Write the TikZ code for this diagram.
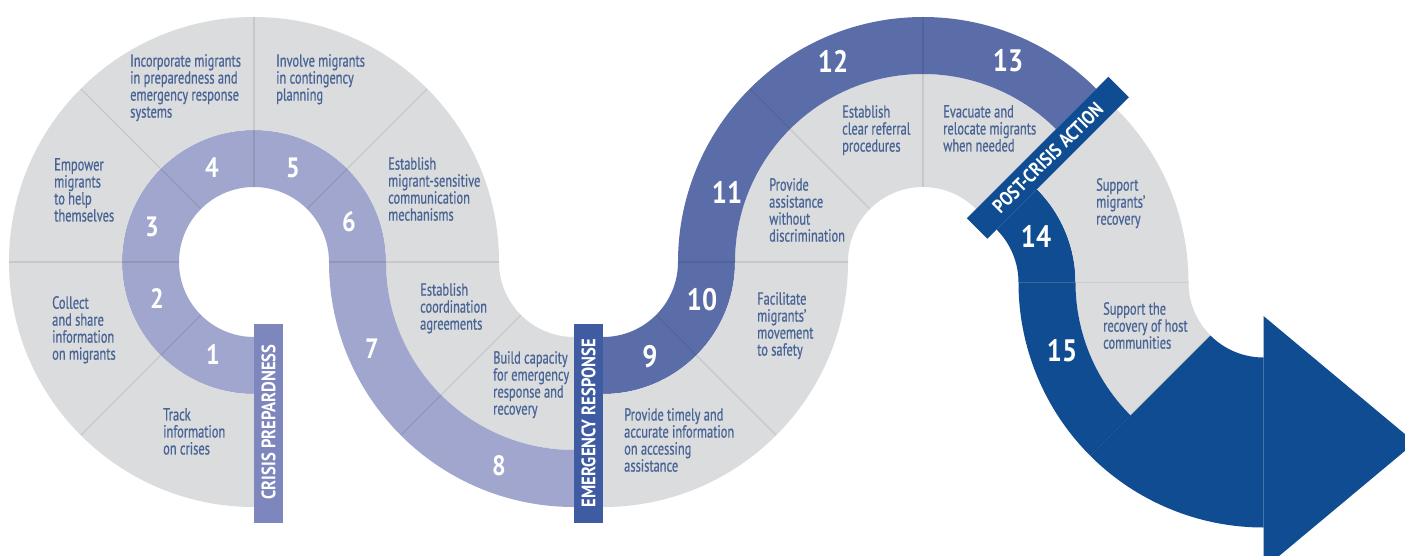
\documentclass[tikz,border=0pt]{standalone}
\usepackage{fontspec}
\usetikzlibrary{calc}
\newfontfamily\txtfont[FakeStretch=0.71,FakeBold=0.7]{PT Sans}
\newfontfamily\numfont[FakeStretch=0.86]{PT Sans}
\newfontfamily\barfont[FakeStretch=0.85]{PT Sans}
\definecolor{greyseg}{HTML}{DBDCDE}
\definecolor{bandA}{HTML}{A0A6CE}
\definecolor{bandB}{HTML}{5B6DA9}
\definecolor{bandC}{HTML}{0F4C91}
\definecolor{barA}{HTML}{7D86BD}
\definecolor{barB}{HTML}{3F5CA3}
\definecolor{barC}{HTML}{0F4C91}
\definecolor{txtcol}{HTML}{4A6595}
% fill colour, centre, inner radius, outer radius, start angle, end angle
\newcommand{\mysector}[6]{%
  \fill[#1] ($(#2)+(#5:#3)$) arc[start angle=#5, end angle=#6, radius=#3]
    -- ($(#2)+(#6:#4)$) arc[start angle=#6, end angle=#5, radius=#4] -- cycle;}
% centre, angle
\newcommand{\mydivider}[2]{%
  \draw[divider] ($(#1)+(#2:75)$) -- ($(#1)+(#2:245)$);}
\begin{document}
\begin{tikzpicture}[x=1pt,y=-1pt,
  divider/.style={black, opacity=0.09, line width=1.3pt},
  tx/.style={anchor=north west, inner sep=0pt, align=left, text=txtcol,
    font=\txtfont\fontsize{17.5}{17}\selectfont},
  num/.style={inner sep=0pt, text=white, font=\numfont\bfseries\fontsize{28}{28}\selectfont},
  bignum/.style={inner sep=0pt, text=white, font=\numfont\bfseries\fontsize{31}{31}\selectfont},
  bartxt/.style={inner sep=0pt, text=white, font=\barfont\bfseries\fontsize{19.5}{19.5}\selectfont}]
\useasboundingbox (0,0) rectangle (1405,556);
\clip (0,0) rectangle (1405,556);
\fill[white] (0,0) rectangle (1405,556);
\coordinate (A) at (254,262);
\coordinate (B) at (574,262);
\coordinate (C) at (603,262);
\coordinate (D) at (923,262);
\coordinate (E) at (943.5,282.5);
\coordinate (F) at (1263.5,282.5);
% piece A (steps 1-6)
\mysector{bandA}{A}{75}{132}{90}{360}
\mysector{greyseg}{A}{132}{245}{90}{360}
% piece B (steps 7-8)
\mysector{greyseg}{B}{75}{188}{90}{180}
\mysector{bandA}{B}{188}{245}{90}{180}
% piece C (steps 9-10)
\mysector{bandB}{C}{75}{132}{0}{90}
\mysector{greyseg}{C}{132}{245}{0}{90}
% piece D (steps 11-13)
\mysector{greyseg}{D}{75}{188}{180}{315}
\mysector{bandB}{D}{188}{245}{180}{315}
% piece E (step 14)
\mysector{bandC}{E}{75}{132}{315}{360}
\mysector{greyseg}{E}{132}{245}{315}{360}
% piece F (step 15 and arrow)
\mysector{greyseg}{F}{75}{188}{135}{180}
\mysector{bandC}{F}{188}{245}{135}{180}
\mysector{bandC}{F}{75}{245}{90}{135}
\fill[bandC] (1263.5,316) -- (1415,442.5) -- (1263.5,569) -- cycle;
% dividers
\mydivider{A}{135}
\mydivider{A}{180}
\mydivider{A}{225}
\mydivider{A}{270}
\mydivider{A}{315}
\mydivider{A}{360}
\mydivider{B}{135}
\mydivider{C}{45}
\mydivider{C}{0}
\mydivider{D}{225}
\mydivider{D}{270}
\mydivider{E}{0}
\mydivider{F}{135}
% bars
\fill[barA] (254,324) rectangle (283,523);
\fill[barB] (574,324) rectangle (603,523);
\fill[barC] ($(D)+(315:62)$) -- ($(D)+(315:262)$) -- ($(D)+(315:262)+(45:29)$)
  -- ($(D)+(315:62)+(45:29)$) -- cycle;
\node[bartxt, rotate=90] (barone) at (268.5,422) {CRISIS PREPARDNESS};
\node[bartxt, rotate=90] (bartwo) at (588.5,423) {EMERGENCY RESPONSE};
\node[bartxt, rotate=45] (barthree) at ($(D)+(315:162)+(45:14.5)$) {POST-CRISIS ACTION};
% numbers
\node[num] (n1) at (213,355) {1};
\node[num] (n2) at (157,299) {2};
\node[num] (n3) at (152,227) {3};
\node[num] (n4) at (212,168) {4};
\node[num] (n5) at (293,168) {5};
\node[num] (n6) at (349,222) {6};
\node[num] (n7) at (372,349) {7};
\node[num] (n8) at (499,466) {8};
\node[bignum] (n9) at (650,357) {9};
\node[bignum] (n10) at (702,300) {10};
\node[bignum] (n11) at (727,192) {11};
\node[bignum] (n12) at (833,61) {12};
\node[bignum] (n13) at (1008,61) {13};
\node[bignum] (n14) at (1036,236) {14};
\node[bignum] (n15) at (1062,351) {15};
% texts
\node[tx] (t1) at (130,54) {Incorporate migrants\\in preparedness and\\emergency response\\systems};
\node[tx] (t2) at (276,54) {Involve migrants\\in contingency\\planning};
\node[tx] (t3) at (54,158) {Empower\\migrants\\to help\\themselves};
\node[tx] (t4) at (52,296) {Collect\\and share\\information\\on migrants};
\node[tx] (t5) at (163,408) {Track\\information\\on crises};
\node[tx] (t6) at (388,157) {Establish\\migrant-sensitive\\communication\\mechanisms};
\node[tx] (t7) at (420,283) {Establish\\coordination\\agreements};
\node[tx] (t8) at (493,351) {Build capacity\\for emergency\\response and\\recovery};
\node[tx] (t9) at (624,408) {Provide timely and\\accurate information\\on accessing\\assistance};
\node[tx] (t10) at (757,292) {Facilitate\\migrants’\\movement\\to safety};
\node[tx] (t11) at (769,178) {Provide\\assistance\\without\\discrimination};
\node[tx] (t12) at (842,105) {Establish\\clear referral\\procedures};
\node[tx] (t13) at (943,105) {Evacuate and\\relocate migrants\\when needed};
\node[tx] (t14) at (1096,178) {Support\\migrants’\\recovery};
\node[tx] (t15) at (1103,302) {Support the\\recovery of host\\communities};
\end{tikzpicture}
\end{document}
